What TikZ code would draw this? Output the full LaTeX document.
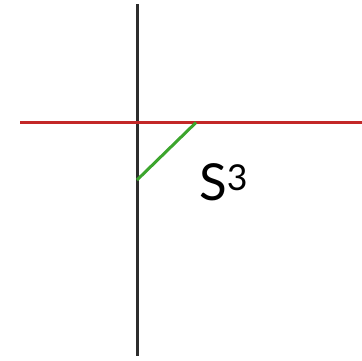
\documentclass[tikz,border=0pt]{standalone}
\usepackage{fontspec}
\setmainfont{Lato}
\usetikzlibrary{positioning}
\definecolor{axisgray}{RGB}{45,45,45}
\definecolor{planered}{RGB}{195,40,40}
\definecolor{cutgreen}{RGB}{60,165,45}

\begin{document}
\begin{tikzpicture}[x=1pt,y=-1pt,
  vline/.style = {draw=axisgray, line width=3pt},
  hline/.style = {draw=planered, line width=3.2pt},
  gline/.style = {draw=cutgreen, line width=3pt},
  lbl/.style   = {font=\fontsize{51}{51}\selectfont, inner sep=0pt}
]
\useasboundingbox (0,0) rectangle (362,360);

% axes
\coordinate (top)   at (137,4);
\coordinate (bot)   at (137,356);
\coordinate (left)  at (20,122.5);
\coordinate (right) at (362,122.5);
\draw[vline] (top) -- (bot);
\draw[hline] (left) -- (right);

% slanted segment
\coordinate (gA) at (137,180);
\coordinate (gB) at (196,122.5);
\draw[gline] (gA) -- (gB);

% label
\node[lbl, anchor=base west] (S3) at (199,200) {S\textsuperscript{3}};

\end{tikzpicture}
\end{document}
